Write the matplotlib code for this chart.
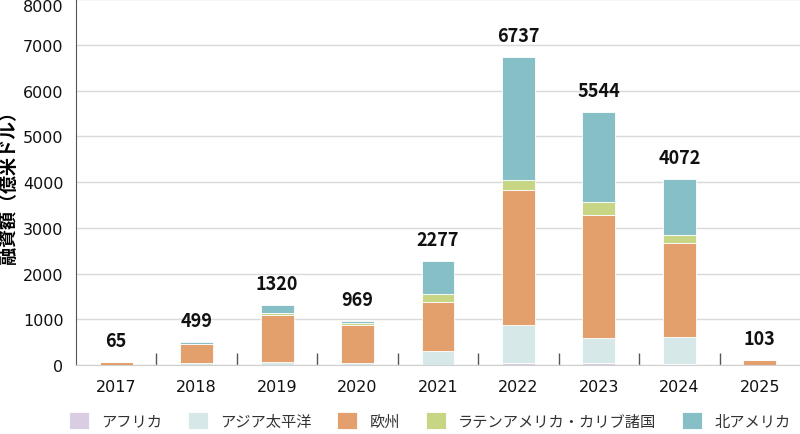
import matplotlib.pyplot as plt
import numpy as np

plt.rcParams['font.family'] = ['Noto Sans CJK JP', 'DejaVu Sans']

years = ["2017", "2018", "2019", "2020", "2021", "2022", "2023", "2024", "2025"]
regions = ["アフリカ", "アジア太平洋", "欧州", "ラテンアメリカ・カリブ諸国", "北アメリカ"]
africa = [0, 2, 5, 3, 5, 44, 51, 22, 0]
asia_pacific = [3, 40, 60, 40, 294, 831, 533, 598, 5]
europe = [62, 418, 1030, 832, 1080, 2954, 2706, 2050, 95]
latam = [0, 4, 35, 50, 175, 219, 277, 175, 0]
north_america = [0, 35, 190, 44, 723, 2689, 1977, 1227, 3]
totals = [65, 499, 1320, 969, 2277, 6737, 5544, 4072, 103]
colors = ["#d8cde3", "#d6e8e8", "#e39f6c", "#c6d684", "#87bfc6"]

fig = plt.figure(figsize=(8, 4.35), dpi=100)
ax = fig.add_axes([0.095, 0.1586, 0.905, 0.8407])

x = np.arange(len(years))
bottom = np.zeros(len(years))
for name, vals, c in zip(regions, [africa, asia_pacific, europe, latam, north_america], colors):
    ax.bar(x, vals, width=0.41, bottom=bottom, color=c, edgecolor="white", linewidth=0.6, label=name, zorder=3)
    bottom += np.array(vals)

# totals above the bars
for xi, t, top in zip(x, totals, bottom):
    ax.text(xi, top + 260, str(t), ha="center", va="bottom", fontsize=13, fontweight="bold", color="#111111")

ax.set_xlim(-0.5, len(years) - 0.5)
ax.set_ylim(0, 8000)
ax.set_yticks(range(0, 8001, 1000))
ax.yaxis.grid(True, color="#d9d9d9", linewidth=1, zorder=0)
ax.set_axisbelow(True)
ax.tick_params(axis="y", length=0, pad=9)

ax.set_xticks(x)
ax.set_xticklabels(years)
ax.tick_params(axis="x", length=0, pad=10)
ax.set_xticks(np.arange(0.5, len(years) - 1, 1), minor=True)
ax.tick_params(axis="x", which="minor", direction="in", length=9, width=1, color="#555555")
for lab in ax.get_xticklabels() + ax.get_yticklabels():
    lab.set_fontfamily("DejaVu Sans")
    lab.set_fontsize(11.5)
    lab.set_color("#111111")
# keep the top label inside the figure
ax.get_yticklabels()[-1].set_verticalalignment("top")

for s in ["top", "right"]:
    ax.spines[s].set_visible(False)
ax.spines["left"].set_color("#555555")
ax.spines["bottom"].set_color("#d0d0d0")

ax.set_ylabel("融資額（億米ドル）", fontsize=13, fontweight="bold")
ax.yaxis.set_label_coords(-0.08, 0.5)

fig.legend(loc="center", bbox_to_anchor=(0.537, 0.03), ncol=5, frameon=False, fontsize=11,
           handlelength=1.3, handleheight=1.3, columnspacing=1.7, handletextpad=0.8,
           labelcolor="#333333")

fig.savefig("out.png", dpi=100)
